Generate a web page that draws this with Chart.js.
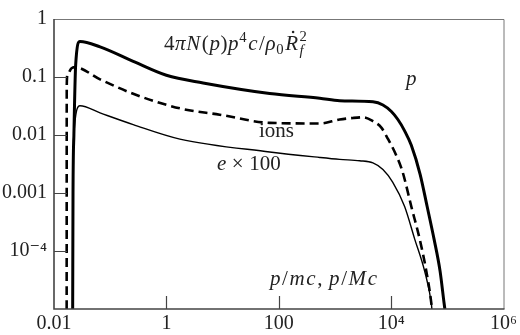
<!DOCTYPE html>
<html>
<head>
<meta charset="utf-8">
<script src="https://cdn.jsdelivr.net/npm/chart.js@4/dist/chart.umd.min.js"></script>
<style>
  html, body { margin: 0; padding: 0; background: #fff; }
  canvas { display: block; }
</style>
</head>
<body>
<canvas id="spectra" width="520" height="335"></canvas>
<script>
// momentum p/mc (x) and 4πN(p)p^4c/ρ0Ṙf^2 (y)
const pX   = [0.0215, 0.0218, 0.0226, 0.0243, 0.029, 0.066, 0.257, 1, 4.5, 69, 537, 1213, 4742, 7145, 10090, 13180, 17380, 22860, 32810, 43650, 58080, 74300, 87500, 90400];
const pY   = [1e-5, 1e-3, 0.01, 0.162, 0.41, 0.33, 0.186, 0.107, 0.079, 0.052, 0.043, 0.039, 0.0373, 0.0329, 0.0254, 0.0185, 0.0118, 0.00664, 0.0021, 5.9e-4, 1.6e-4, 4.5e-5, 1.27e-5, 1e-5];

const ionX = [0.0168, 0.01686, 0.0174, 0.0204, 0.0234, 0.066, 0.257, 1.74, 8.9, 69, 537, 1213, 2094, 3155, 4742, 6699, 8770, 11530, 15170, 17020, 22860, 32140, 42270, 51880, 53090];
const ionY = [1e-5, 0.0708, 0.112, 0.141, 0.148, 0.091, 0.0513, 0.0288, 0.0224, 0.0162, 0.0158, 0.0185, 0.0197, 0.0202, 0.0173, 0.0134, 0.00857, 0.00513, 0.00271, 0.00187, 5.85e-4, 1.62e-4, 4.5e-5, 1.26e-5, 1e-5];

const eX   = [0.0215, 0.0222, 0.029, 0.066, 0.257, 1.74, 69, 537, 1213, 2754, 4742, 7145, 10640, 17380, 26180, 39450, 51880, 53090];
const eY   = [1e-5, 0.008, 0.032, 0.024, 0.0151, 0.0085, 0.0051, 0.0041, 0.0038, 0.0036, 0.0033, 0.00254, 0.00154, 5.85e-4, 1.62e-4, 4.5e-5, 1.26e-5, 1e-5];

const xTicks = [0.01, 1, 100, 1e4, 1e6];
const xTickLabels = ['0.01', '1', '100', '10⁴', '10⁶'];
const yTicks = [1e-5, 1e-4, 0.001, 0.01, 0.1, 1];
const yTickLabels = ['', '10⁻⁴', '0.001', '0.01', '0.1', '1'];

const pts = (xs, ys) => xs.map((x, i) => ({ x: x, y: ys[i] }));

const SERIF = '"Liberation Serif", "DejaVu Serif", serif';
const INK = '#222';

// draws a run of text pieces (italic / sub / superscript) from left to right
function drawRuns(ctx, x, y, size, runs, spacing) {
  ctx.save();
  ctx.fillStyle = INK;
  ctx.textBaseline = 'alphabetic';
  ctx.textAlign = 'left';
  let cx = x;
  for (const r of runs) {
    const s = size * (r.s || 1);
    ctx.font = (r.it ? 'italic ' : '') + s + 'px ' + SERIF;
    ctx.fillText(r.t, cx + (r.dx || 0), y + (r.dy || 0));
    const w = ctx.measureText(r.t).width;
    if (r.dot) {
      ctx.beginPath();
      ctx.arc(cx + w * 0.62, y - s * 0.86, 1.3, 0, Math.PI * 2);
      ctx.fill();
    }
    if (!r.stay) cx += w + (r.gap || 0) + (spacing || 0);
  }
  ctx.restore();
}

const decor = {
  id: 'decor',
  afterDatasetsDraw(chart) {
    const ctx = chart.ctx;
    const a = chart.chartArea;
    const xs = chart.scales.x, ys = chart.scales.y;

    // frame
    ctx.save();
    ctx.strokeStyle = '#777';
    ctx.lineWidth = 1;
    ctx.beginPath();
    ctx.moveTo(a.left, a.top + 0.5);
    ctx.lineTo(a.right + 0.5, a.top + 0.5);
    ctx.lineTo(a.right + 0.5, a.bottom);
    ctx.stroke();
    ctx.strokeStyle = '#444';
    ctx.lineWidth = 1.6;
    ctx.beginPath();
    ctx.moveTo(a.left, a.top);
    ctx.lineTo(a.left, a.bottom);
    ctx.lineTo(a.right + 1, a.bottom);
    ctx.stroke();

    // inward tick marks
    ctx.lineWidth = 1.2;
    ctx.beginPath();
    xTicks.slice(1, -1).forEach(v => {
      const px = Math.round(xs.getPixelForValue(v)) + 0.5;
      ctx.moveTo(px, a.bottom);
      ctx.lineTo(px, a.bottom - 13);
    });
    yTicks.slice(1, -1).forEach(v => {
      const py = Math.round(ys.getPixelForValue(v)) + 0.5;
      ctx.moveTo(a.left, py);
      ctx.lineTo(a.left + 13, py);
    });
    ctx.stroke();
    ctx.restore();

    const size = 21;
    // y-quantity
    drawRuns(ctx, 164, 50, size, [
      { t: '4' }, { t: 'π', it: true }, { t: 'N', it: true, gap: 1 }, { t: '(' }, { t: 'p', it: true },
      { t: ')' }, { t: 'p', it: true }, { t: '4', s: 0.7, dy: -8, gap: 1 }, { t: 'c', it: true, gap: 1 },
      { t: '/' }, { t: 'ρ', it: true }, { t: '0', s: 0.7, dy: 4, gap: 1 }, { t: 'R', it: true, dot: true, gap: 1 },
      { t: '2', s: 0.7, dy: -9, stay: true }, { t: 'f', it: true, s: 0.7, dy: 5 }
    ], 0.6);
    // curve labels
    drawRuns(ctx, 406, 85, size, [{ t: 'p', it: true }]);
    drawRuns(ctx, 259, 137, size, [{ t: 'ions' }], 0.3);
    drawRuns(ctx, 217, 170, size, [{ t: 'e', it: true, gap: 5 }, { t: '×', gap: 5 }, { t: '100' }], 0.5);
    // x-quantity
    drawRuns(ctx, 270, 285, size, [
      { t: 'p', it: true }, { t: '/' }, { t: 'm', it: true }, { t: 'c', it: true }, { t: ',', gap: 5 },
      { t: 'p', it: true }, { t: '/' }, { t: 'M', it: true }, { t: 'c', it: true }
    ], 1.6);
  }
};

new Chart(document.getElementById('spectra'), {
  type: 'line',
  data: {
    datasets: [
      { label: 'p', data: pts(pX, pY), borderColor: '#000', borderWidth: 3 },
      { label: 'ions', data: pts(ionX, ionY), borderColor: '#000', borderWidth: 2.6, borderDash: [9, 5] },
      { label: 'e x 100', data: pts(eX, eY), borderColor: '#000', borderWidth: 1.4 }
    ]
  },
  plugins: [decor],
  options: {
    responsive: false,
    animation: false,
    layout: { padding: { top: 9, right: 16, left: 0, bottom: 0 } },
    elements: {
      point: { radius: 0 },
      line: { cubicInterpolationMode: 'monotone', fill: false, borderCapStyle: 'butt', borderJoinStyle: 'round' }
    },
    plugins: { legend: { display: false }, tooltip: { enabled: false } },
    scales: {
      x: {
        type: 'logarithmic',
        min: 0.01,
        max: 1e6,
        grid: { display: false, drawTicks: false },
        border: { display: false },
        afterBuildTicks: s => { s.ticks = xTicks.map(v => ({ value: v })); },
        afterFit: s => { s.height = 26; },
        ticks: {
          autoSkip: false,
          maxRotation: 0,
          padding: 3,
          color: INK,
          font: { family: SERIF, size: 20 },
          callback: (v, i) => xTickLabels[i]
        }
      },
      y: {
        type: 'logarithmic',
        min: 1e-5,
        max: 1,
        grid: { display: false, drawTicks: false },
        border: { display: false },
        afterBuildTicks: s => { s.ticks = yTicks.map(v => ({ value: v })); },
        afterFit: s => { s.width = 54; },
        ticks: {
          autoSkip: false,
          padding: 7,
          color: INK,
          font: { family: SERIF, size: 20 },
          callback: (v, i) => yTickLabels[i]
        }
      }
    }
  }
});
</script>
</body>
</html>
